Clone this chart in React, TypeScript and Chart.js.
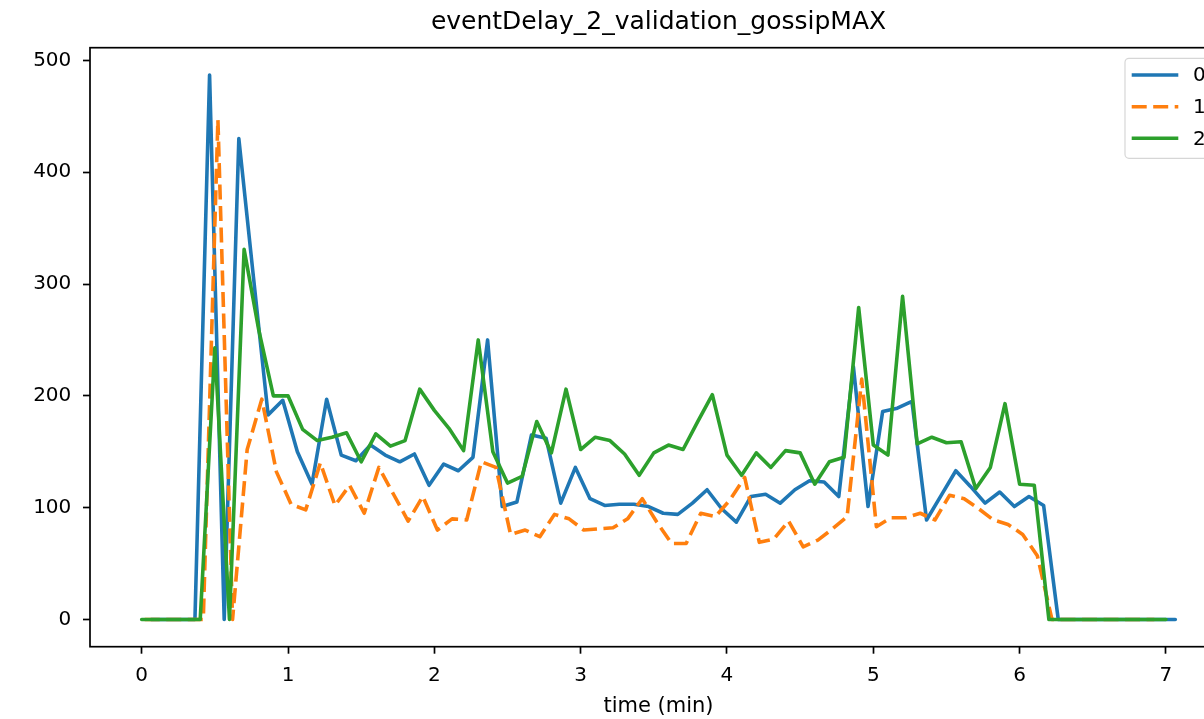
import React, { useEffect, useRef } from "react";
import { Chart, registerables } from "chart.js";

Chart.register(...registerables);

const TITLE = "eventDelay_2_validation_gossipMAX";
const X_LABEL = "time (min)";
const SERIES_LABELS = ["0", "1", "2"];
const SERIES_COLORS = ["#1f77b4", "#ff7f0e", "#2ca02c"];
const X_TICKS = [0, 1, 2, 3, 4, 5, 6, 7];
const Y_TICKS = [0, 100, 200, 300, 400, 500];

const time0 = [
  0.064, 0.164, 0.264, 0.364, 0.464, 0.564, 0.664, 0.764, 0.864, 0.964,
  1.064, 1.164, 1.264, 1.364, 1.464, 1.564, 1.664, 1.764, 1.864, 1.964,
  2.064, 2.164, 2.264, 2.364, 2.464, 2.564, 2.664, 2.764, 2.864, 2.964,
  3.064, 3.164, 3.264, 3.364, 3.464, 3.564, 3.664, 3.764, 3.864, 3.964,
  4.064, 4.164, 4.264, 4.364, 4.464, 4.564, 4.664, 4.764, 4.864, 4.964,
  5.064, 5.164, 5.264, 5.364, 5.464, 5.564, 5.664, 5.764, 5.864, 5.964,
  6.064, 6.164, 6.264, 6.364, 6.464, 6.564, 6.664, 6.764, 6.864, 6.964,
  7.064,
];
const value0 = [
  0, 0, 0, 0, 487, 0, 430, 306, 183, 196,
  150, 121, 197, 147, 142, 156, 147, 141, 148, 120,
  139, 133, 145, 250, 101, 105, 165, 162, 104, 136,
  108, 102, 103, 103, 101, 95, 94, 104, 116, 99,
  87, 110, 112, 104, 116, 124, 123, 110, 226, 101,
  186, 189, 195, 89, 111, 133, 119, 104, 114, 101,
  110, 102, 0, 0, 0, 0, 0, 0, 0, 0,
  0,
];

const time1 = [
  0.021, 0.121, 0.221, 0.321, 0.421, 0.521, 0.621, 0.721, 0.821, 0.921,
  1.021, 1.121, 1.221, 1.321, 1.421, 1.521, 1.621, 1.721, 1.821, 1.921,
  2.021, 2.121, 2.221, 2.321, 2.421, 2.521, 2.621, 2.721, 2.821, 2.921,
  3.021, 3.121, 3.221, 3.321, 3.421, 3.521, 3.621, 3.721, 3.821, 3.921,
  4.021, 4.121, 4.221, 4.321, 4.421, 4.521, 4.621, 4.721, 4.821, 4.921,
  5.021, 5.121, 5.221, 5.321, 5.421, 5.521, 5.621, 5.721, 5.821, 5.921,
  6.021, 6.121, 6.221, 6.321, 6.421, 6.521, 6.621, 6.721, 6.821, 6.921,
];
const value1 = [
  0, 0, 0, 0, 0, 447, 0, 152, 197, 132,
  103, 98, 140, 102, 120, 95, 136, 112, 88, 110,
  80, 90, 89, 141, 136, 76, 80, 74, 94, 90,
  80, 81, 82, 90, 108, 87, 68, 68, 95, 92,
  107, 127, 69, 72, 88, 65, 71, 81, 92, 215,
  83, 91, 91, 95, 89, 111, 108, 99, 89, 85,
  76, 57, 0, 0, 0, 0, 0, 0, 0, 0,
];

const time2 = [
  0.0, 0.1, 0.2, 0.3, 0.4, 0.5, 0.6, 0.7, 0.8, 0.9,
  1.0, 1.1, 1.2, 1.3, 1.4, 1.5, 1.6, 1.7, 1.8, 1.9,
  2.0, 2.1, 2.2, 2.3, 2.4, 2.5, 2.6, 2.7, 2.8, 2.9,
  3.0, 3.1, 3.2, 3.3, 3.4, 3.5, 3.6, 3.7, 3.8, 3.9,
  4.0, 4.1, 4.2, 4.3, 4.4, 4.5, 4.6, 4.7, 4.8, 4.9,
  5.0, 5.1, 5.2, 5.3, 5.4, 5.5, 5.6, 5.7, 5.8, 5.9,
  6.0, 6.1, 6.2, 6.3, 6.4, 6.5, 6.6, 6.7, 6.8, 6.9,
  7.0,
];
const value2 = [
  0, 0, 0, 0, 0, 243, 0, 331, 259, 200,
  200, 170, 160, 163, 167, 141, 166, 155, 160, 206,
  187, 171, 151, 250, 150, 122, 128, 177, 149, 206,
  152, 163, 160, 148, 129, 149, 156, 152, 177, 201,
  147, 129, 149, 136, 151, 149, 121, 141, 145, 279,
  156, 147, 289, 157, 163, 158, 159, 117, 136, 193,
  121, 120, 0, 0, 0, 0, 0, 0, 0, 0,
  0,
];

const SERIES_TIMES = [time0, time1, time2];
const SERIES_VALUES = [value0, value1, value2];
const SERIES_DASH: number[][] = [[], [15, 6.5], []];

const FONT = "'DejaVu Sans', 'Liberation Sans', sans-serif";
const CANVAS_W = 1250;
const CANVAS_H = 719;
const LINE_W = 3.6;

const allX = SERIES_TIMES.flat();
const allY = SERIES_VALUES.flat();
const xMinD = Math.min(...allX);
const xMaxD = Math.max(...allX);
const yMinD = Math.min(...allY);
const yMaxD = Math.max(...allY);
const xPad = (xMaxD - xMinD) * 0.05;
const yPad = (yMaxD - yMinD) * 0.05;

const frameLegendPlugin = {
  id: "frameLegend",
  afterDraw(chart: any) {
    const { ctx, chartArea: a } = chart;
    ctx.save();
    ctx.lineWidth = 1.7;
    ctx.strokeStyle = "#000";
    ctx.setLineDash([]);
    ctx.strokeRect(a.left, a.top, a.right - a.left, a.bottom - a.top);

    // legend box (matplotlib style, upper right inside axes)
    const bx = a.right - 102;
    const by = a.top + 10.6;
    const bw = 92;
    const bh = 100;
    const r = 4;
    ctx.beginPath();
    ctx.moveTo(bx + r, by);
    ctx.lineTo(bx + bw - r, by);
    ctx.arcTo(bx + bw, by, bx + bw, by + r, r);
    ctx.lineTo(bx + bw, by + bh - r);
    ctx.arcTo(bx + bw, by + bh, bx + bw - r, by + bh, r);
    ctx.lineTo(bx + r, by + bh);
    ctx.arcTo(bx, by + bh, bx, by + bh - r, r);
    ctx.lineTo(bx, by + r);
    ctx.arcTo(bx, by, bx + r, by, r);
    ctx.closePath();
    ctx.fillStyle = "rgba(255,255,255,0.8)";
    ctx.fill();
    ctx.lineWidth = 1.2;
    ctx.strokeStyle = "rgba(204,204,204,0.8)";
    ctx.stroke();

    const rowY = [by + 16.7, by + 48.4, by + 80];
    SERIES_LABELS.forEach((label, i) => {
      ctx.beginPath();
      ctx.lineWidth = LINE_W;
      ctx.strokeStyle = SERIES_COLORS[i];
      ctx.setLineDash(SERIES_DASH[i]);
      ctx.lineCap = "butt";
      ctx.moveTo(bx + 6.7, rowY[i]);
      ctx.lineTo(bx + 53.3, rowY[i]);
      ctx.stroke();
      ctx.setLineDash([]);
      ctx.fillStyle = "#000";
      ctx.font = `20px ${FONT}`;
      ctx.textAlign = "left";
      ctx.textBaseline = "middle";
      ctx.fillText(label, bx + 68, rowY[i] + 1);
    });
    ctx.restore();
  },
};

export default function App() {
  const canvasRef = useRef<HTMLCanvasElement | null>(null);

  useEffect(() => {
    const canvas = canvasRef.current;
    if (!canvas) return;
    const datasets = SERIES_LABELS.map((label, i) => ({
      label,
      data: SERIES_TIMES[i].map((t, k) => ({ x: t, y: SERIES_VALUES[i][k] })),
      borderColor: SERIES_COLORS[i],
      backgroundColor: SERIES_COLORS[i],
      borderWidth: LINE_W,
      borderDash: SERIES_DASH[i],
      borderCapStyle: i === 1 ? "butt" : "round",
      borderJoinStyle: "round",
      pointRadius: 0,
      tension: 0,
      fill: false,
      order: 2 - i,
    }));

    const chart = new Chart(canvas, {
      type: "line",
      data: { datasets } as any,
      plugins: [frameLegendPlugin],
      options: {
        animation: false,
        responsive: false,
        devicePixelRatio: 1,
        layout: { padding: { left: 0, right: 23, top: 0, bottom: 0 } },
        plugins: {
          legend: { display: false },
          tooltip: { enabled: false },
          title: {
            display: true,
            text: TITLE,
            color: "#000",
            fullSize: false,
            font: { family: FONT, size: 25, weight: "normal" },
            padding: { top: 7.5, bottom: 10.2 },
          },
        },
        scales: {
          x: {
            type: "linear",
            min: xMinD - xPad,
            max: xMaxD + xPad,
            afterFit: (scale: any) => {
              scale.height = 72.3;
            },
            afterBuildTicks: (scale: any) => {
              scale.ticks = X_TICKS.map((v) => ({ value: v }));
            },
            ticks: {
              color: "#000",
              font: { family: FONT, size: 20 },
              padding: 10,
              maxRotation: 0,
              autoSkip: false,
              callback: (v: any) => String(v),
            },
            grid: {
              display: true,
              drawOnChartArea: false,
              drawTicks: true,
              tickLength: 7,
              tickColor: "#000",
              tickWidth: 1.7,
            },
            border: { display: false },
            title: {
              display: true,
              text: X_LABEL,
              color: "#000",
              font: { family: FONT, size: 21 },
              padding: { top: 0, bottom: 0 },
            },
          },
          y: {
            type: "linear",
            min: yMinD - yPad,
            max: yMaxD + yPad,
            afterFit: (scale: any) => {
              scale.width = 90;
            },
            afterBuildTicks: (scale: any) => {
              scale.ticks = Y_TICKS.map((v) => ({ value: v }));
            },
            ticks: {
              color: "#000",
              font: { family: FONT, size: 20 },
              padding: 11.7,
              autoSkip: false,
              callback: (v: any) => String(v),
            },
            grid: {
              display: true,
              drawOnChartArea: false,
              drawTicks: true,
              tickLength: 7,
              tickColor: "#000",
              tickWidth: 1.7,
            },
            border: { display: false },
          },
        },
      } as any,
    });
    return () => chart.destroy();
  }, []);

  return (
    <div
      style={{
        position: "fixed",
        left: 0,
        top: 0,
        width: 1204,
        height: 719,
        overflow: "hidden",
        background: "#fff",
      }}
    >
      <canvas
        ref={canvasRef}
        width={CANVAS_W}
        height={CANVAS_H}
        style={{ display: "block", width: CANVAS_W, height: CANVAS_H }}
      />
    </div>
  );
}
